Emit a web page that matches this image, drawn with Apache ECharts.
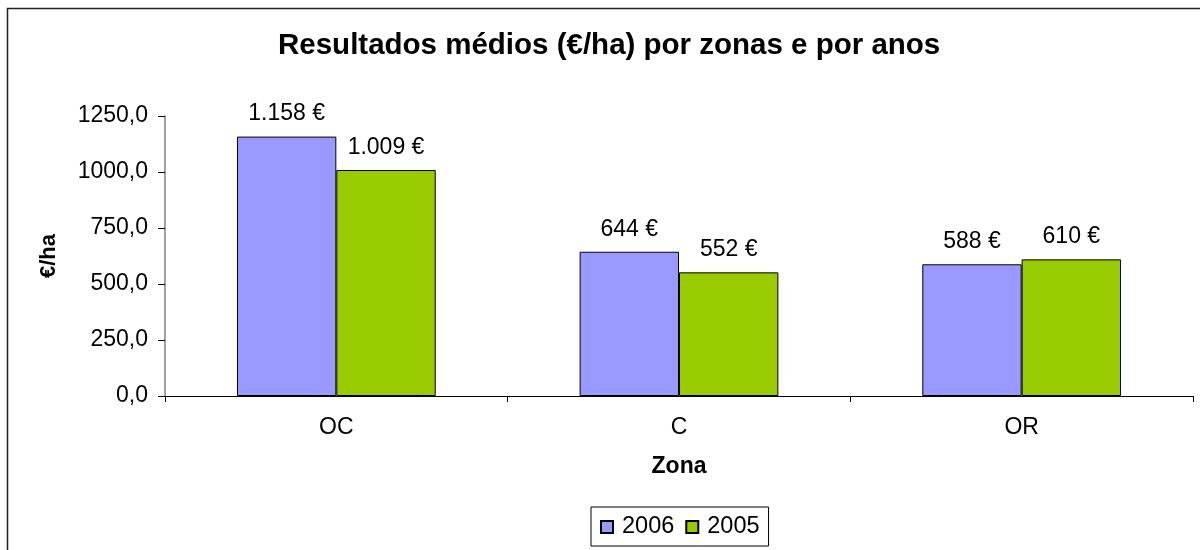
<!DOCTYPE html>
<html>
<head>
<meta charset="utf-8">
<script src="https://cdn.jsdelivr.net/npm/echarts@6/dist/echarts.min.js"></script>
<style>
  html, body { margin: 0; padding: 0; background: #fff; }
  #main { width: 1200px; height: 550px; }
</style>
</head>
<body>
<div id="main"></div>
<script>
var zonas = ["OC", "C", "OR"];
var anos = ["2006", "2005"];
var valores2006 = [1158, 644, 588];
var valores2005 = [1009, 552, 610];

var fonte = "'Liberation Sans', Arial, sans-serif";

// 1158 -> "1.158 €"
function euro(v) {
  var s = String(Math.round(v));
  return s.replace(/\B(?=(\d{3})+(?!\d))/g, ".") + " €";
}

var chartDom = document.getElementById("main");
var myChart = echarts.init(chartDom, null, { renderer: "canvas" });

var etiqueta = {
  show: true,
  position: "top",
  distance: 11,
  color: "#000",
  fontFamily: fonte,
  fontSize: 23,
  formatter: function (p) { return euro(p.value); }
};

var option = {
  backgroundColor: "#fff",
  animation: false,
  textStyle: { fontFamily: fonte },
  title: {
    text: "Resultados médios (€/ha) por zonas e por anos",
    left: 278,
    top: 31,
    padding: 0,
    textStyle: { fontFamily: fonte, fontSize: 29.5, fontWeight: "bold", color: "#000" }
  },
  graphic: [
    {
      type: "rect",
      z: -1,
      shape: { x: 7.5, y: 8.5, width: 1400, height: 800 },
      style: { fill: null, stroke: "#222", lineWidth: 1.5 }
    }
  ],
  legend: {
    data: anos,
    left: 591,
    top: 507,
    padding: [8, 9, 7, 9],
    borderColor: "#000",
    borderWidth: 1,
    itemWidth: 12,
    itemHeight: 12,
    itemGap: 11,
    icon: "rect",
    selectedMode: false,
    textStyle: { fontFamily: fonte, fontSize: 23.5, color: "#000", padding: [0, 0, 0, 4] }
  },
  grid: { left: 165, right: 7, top: 116, bottom: 154, containLabel: false },
  xAxis: {
    type: "category",
    data: zonas,
    name: "Zona",
    nameLocation: "middle",
    nameGap: 59,
    nameTextStyle: { fontFamily: fonte, fontSize: 23, fontWeight: "bold", color: "#000" },
    axisLine: { lineStyle: { color: "#000", width: 1 } },
    axisTick: { show: true, length: 6, lineStyle: { color: "#000" } },
    axisLabel: { margin: 20, fontFamily: fonte, fontSize: 23, color: "#000" },
    splitLine: { show: false }
  },
  yAxis: {
    type: "value",
    min: 0,
    max: 1250,
    interval: 250,
    name: "€/ha",
    nameLocation: "middle",
    nameGap: 105,
    nameRotate: 90,
    nameTextStyle: { fontFamily: fonte, fontSize: 22, fontWeight: "bold", color: "#000" },
    axisLine: { show: true, lineStyle: { color: "#808080", width: 1.5 } },
    axisTick: { show: true, length: 7, lineStyle: { color: "#000" } },
    axisLabel: {
      margin: 17,
      fontFamily: fonte,
      fontSize: 23,
      color: "#000",
      formatter: function (v) { return v.toFixed(1).replace(".", ","); }
    },
    splitLine: { show: false }
  },
  series: [
    {
      name: anos[0],
      type: "bar",
      data: valores2006,
      barGap: "0%",
      barCategoryGap: "42%",
      itemStyle: { color: "#9999FF", borderColor: "#000", borderWidth: 1 },
      label: etiqueta
    },
    {
      name: anos[1],
      type: "bar",
      data: valores2005,
      barGap: "0%",
      barCategoryGap: "42%",
      itemStyle: { color: "#99CC00", borderColor: "#000", borderWidth: 1 },
      label: etiqueta
    }
  ]
};

option && myChart.setOption(option);
</script>
</body>
</html>
